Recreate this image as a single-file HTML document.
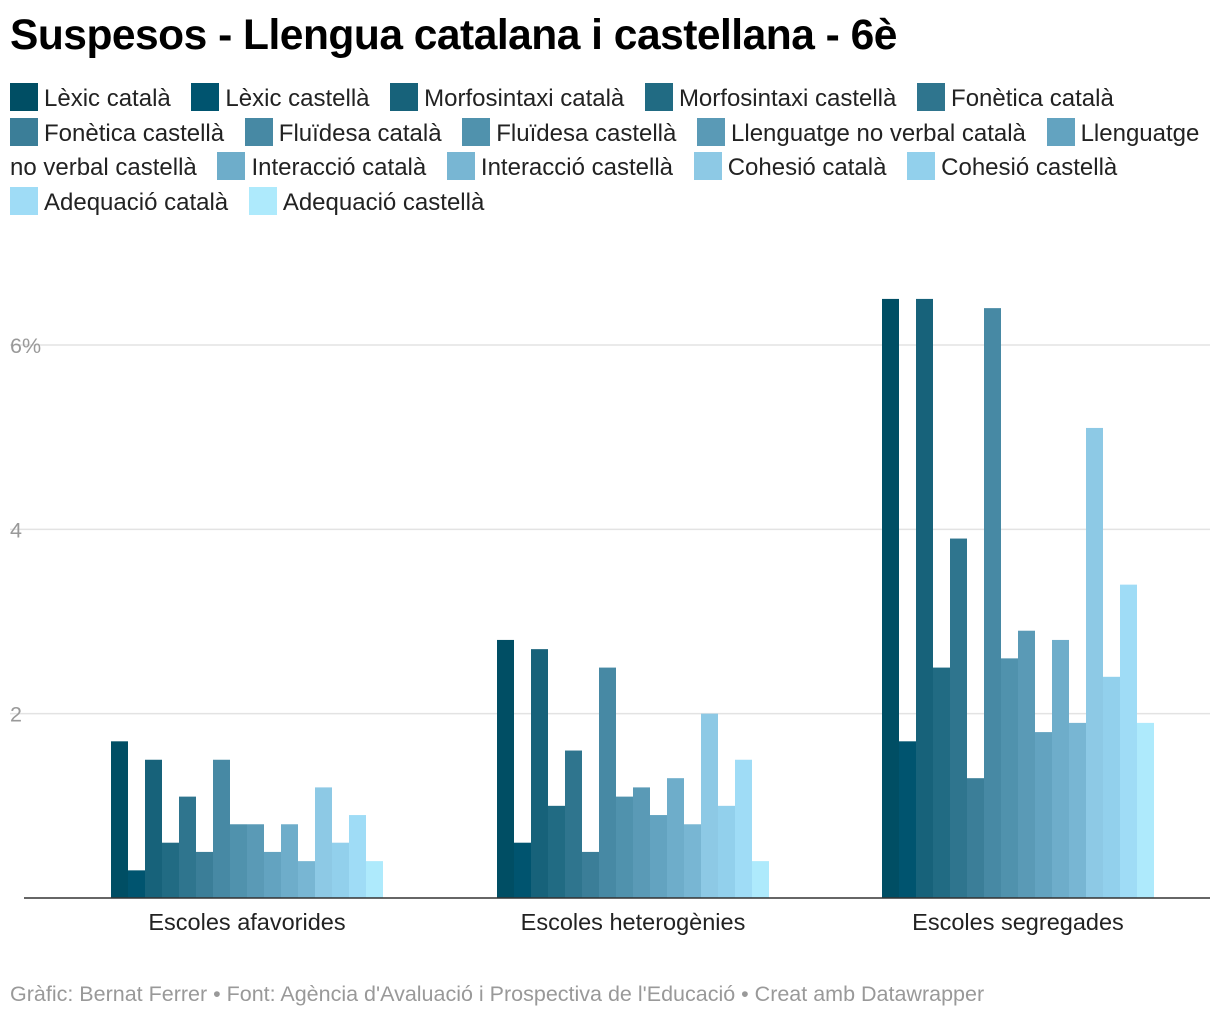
<!DOCTYPE html>
<html><head><meta charset="utf-8"><style>
body{margin:0;width:1220px;height:1020px;background:#fff;font-family:"Liberation Sans",sans-serif;position:relative;overflow:hidden}
#title{position:absolute;left:10px;top:12px;font-size:42.5px;font-weight:bold;color:#000;letter-spacing:-0.5px;margin:0}
#legend{position:absolute;left:10px;top:82px;width:1205px;font-size:24px;line-height:34.5px;color:#222}
.li{white-space:normal;margin-right:14px}
.nw{white-space:nowrap}
.sw{display:inline-block;width:28px;height:28px;vertical-align:-5px;margin-right:6px}
#footer{position:absolute;left:10px;top:982px;font-size:21.5px;color:#999}
svg{position:absolute;left:0;top:0}
</style></head><body>
<h1 id="title">Suspesos - Llengua catalana i castellana - 6è</h1>
<div id="legend"></div>
<svg id="chart" width="1220" height="1020"></svg>
<div id="footer">Gràfic: Bernat Ferrer • Font: Agència d'Avaluació i Prospectiva de l'Educació • Creat amb Datawrapper</div>
<script>
const categories=["Escoles afavorides","Escoles heterogènies","Escoles segregades"];
const seriesNames=["Lèxic català","Lèxic castellà","Morfosintaxi català","Morfosintaxi castellà","Fonètica català","Fonètica castellà","Fluïdesa català","Fluïdesa castellà","Llenguatge no verbal català","Llenguatge no verbal castellà","Interacció català","Interacció castellà","Cohesió català","Cohesió castellà","Adequació català","Adequació castellà"];
const valsAfavorides=[1.7,0.3,1.5,0.6,1.1,0.5,1.5,0.8,0.8,0.5,0.8,0.4,1.2,0.6,0.9,0.4];
const valsHeterogenies=[2.8,0.6,2.7,1.0,1.6,0.5,2.5,1.1,1.2,0.9,1.3,0.8,2.0,1.0,1.5,0.4];
const valsSegregades=[6.5,1.7,6.5,2.5,3.9,1.3,6.4,2.6,2.9,1.8,2.8,1.9,5.1,2.4,3.4,1.9];
const yTicks=[2,4,6];
const yTickLabels=["2","4","6%"];
const colors=["#004e64","#00546f","#17627a","#216b83","#2f758e","#3b7e98","#4789a4","#5092ad","#5a9ab6","#63a3c0","#6eadca","#78b6d3","#8dc9e5","#92d0ec","#9fdcf6","#aeeafc"];
const data=[valsAfavorides,valsHeterogenies,valsSegregades];
const NS="http://www.w3.org/2000/svg";
const svg=document.getElementById('chart');
const y0=898, pxPerUnit=(898-345)/6;
const y=v=>y0-v*pxPerUnit;
const groupStart=[111,497,882], bw=17;
function el(t,a){const e=document.createElementNS(NS,t);for(const k in a)e.setAttribute(k,a[k]);svg.appendChild(e);return e;}
yTicks.forEach((t,i)=>{
  const g=el('line',{x1:10,x2:1210,y1:y(t),y2:y(t),stroke:'#e3e3e3','stroke-width':1.5});
  
  
  const tx=el('text',{x:10,y:y(t)+8,'font-size':21.5,fill:'#999','font-family':'Liberation Sans, sans-serif'});
  tx.textContent=yTickLabels[i];
  
  
});
data.forEach((vals,gi)=>{
  vals.forEach((v,si)=>{
    const r=el('rect',{x:groupStart[gi]+si*bw,y:y(v),width:bw,height:v*pxPerUnit,fill:colors[si]});
    
    
  });
  const t=el('text',{x:groupStart[gi]+bw*8,y:930,'font-size':23.5,fill:'#222','text-anchor':'middle','font-family':'Liberation Sans, sans-serif'});
  t.textContent=categories[gi];
  
  
});
const ax=el('line',{x1:24,x2:1210,y1:y0,y2:y0,stroke:'#333','stroke-width':1.5});


const lg=document.getElementById('legend');
seriesNames.forEach((n,i)=>{
  const s=document.createElement('span');s.className='li';
  
  
  const words=n.split(' ');
  const head=document.createElement('span');head.className='nw';
  const sw=document.createElement('span');sw.className='sw';sw.style.background=colors[i];
  
  
  head.appendChild(sw);head.appendChild(document.createTextNode(words[0]));
  s.appendChild(head);
  if(words.length>1)s.appendChild(document.createTextNode(' '+words.slice(1).join(' ')));
  lg.appendChild(s);lg.appendChild(document.createTextNode(' '));
});
</script>
</body></html>
